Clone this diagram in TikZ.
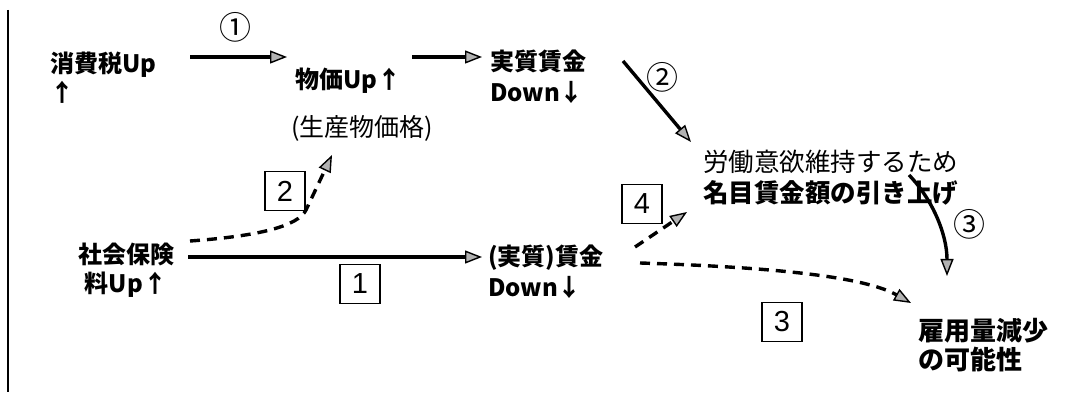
\documentclass[tikz,border=0pt]{standalone}
\usepackage{fontspec}
\setmainfont{Noto Sans CJK JP}
\newfontfamily\arialf{Liberation Sans}
\usetikzlibrary{arrows.meta}
\begin{document}
\begin{tikzpicture}[x=1pt,y=-1pt,
  every node/.style={inner sep=0pt,outer sep=0pt},
  lbl/.style={font=\fontsize{24}{29}\selectfont\bfseries,align=left,anchor=north west},
  lblr/.style={font=\fontsize{25.5}{31}\selectfont,align=left,anchor=north west},
  tip/.style={-{Triangle[length=17pt,width=13pt,fill=gray!60,line width=1.4pt]}},
  ln/.style={line width=3.4pt},
  dsh/.style={line width=3.4pt,dash pattern=on 10pt off 7pt},
  numbox/.style={draw,line width=1.6pt,minimum width=40pt,minimum height=39pt,font=\arialf\fontsize{29}{29}\selectfont},
  circ/.style={font=\fontsize{32}{32}\selectfont}
]
\useasboundingbox (0,0) rectangle (1070,395);
\draw[line width=2.6pt] (8,10) -- (8,392);

% text nodes
\node[lbl] (tax) at (50,52) {消費税Up\\↑};
\node[lbl] (price) at (295,68) {物価Up↑};
\node[lblr,font=\fontsize{25}{30}\selectfont] (prod) at (291,115) {(生産物価格)};
\node[lbl,font=\fontsize{24}{31}\selectfont\bfseries] (real) at (490,50) {実質賃金\\Down↓};
\node[lblr] (motiv) at (703,150) {労働意欲維持するため\\\bfseries 名目賃金額の引き上げ};
\node[lbl,align=center,anchor=north] (social) at (126,243) {社会保険\\料Up↑};
\node[lbl,font=\fontsize{24}{31}\selectfont\bfseries] (wage) at (488,245) {(実質)賃金\\Down↓};
\node[lbl,font=\fontsize{26}{29}\selectfont\bfseries] (emp) at (918,318) {雇用量減少\\の可能性};

% boxed numbers
\node[numbox] (b1) at (360,284) {1};
\node[numbox] (b2) at (285,191) {2};
\node[numbox] (b3) at (782,322) {3};
\node[numbox] (b4) at (642,204) {4};

% circled numbers
\node[circ] (c1) at (235,27) {①};
\node[circ] (c2) at (662,77) {②};
\node[circ] (c3) at (969,224) {③};

% connector end points
\coordinate (a1s) at (190,57);  \coordinate (a1e) at (287,57);
\coordinate (a2s) at (412,57);  \coordinate (a2e) at (482,57);
\coordinate (a3s) at (623,61);  \coordinate (a3e) at (691,142);
\coordinate (a4s) at (909,175); \coordinate (a4e) at (947,276);
\coordinate (a5s) at (188,257); \coordinate (a5e) at (482,257);
\coordinate (d2s) at (190,241); \coordinate (d2m) at (306,210); \coordinate (d2e) at (332,155);
\coordinate (d4s) at (635,247); \coordinate (d4e) at (687,212);
\coordinate (d3s) at (640,263); \coordinate (d3e) at (911,303);

\draw[ln,tip] (a1s) -- (a1e);
\draw[ln,tip] (a2s) -- (a2e);
\draw[ln,tip] (a3s) -- (a3e);
\draw[ln,tip] (a4s) .. controls (933,200) and (947,235) .. (a4e);
\draw[ln,tip] (a5s) -- (a5e);
\draw[dsh,tip] (d2s) .. controls (260,236) and (298,226) .. (d2m) -- (d2e);
\draw[dsh,tip] (d4s) -- (d4e);
\draw[dsh,tip] (d3s) .. controls (800,268) and (870,280) .. (d3e);
\end{tikzpicture}
\end{document}
